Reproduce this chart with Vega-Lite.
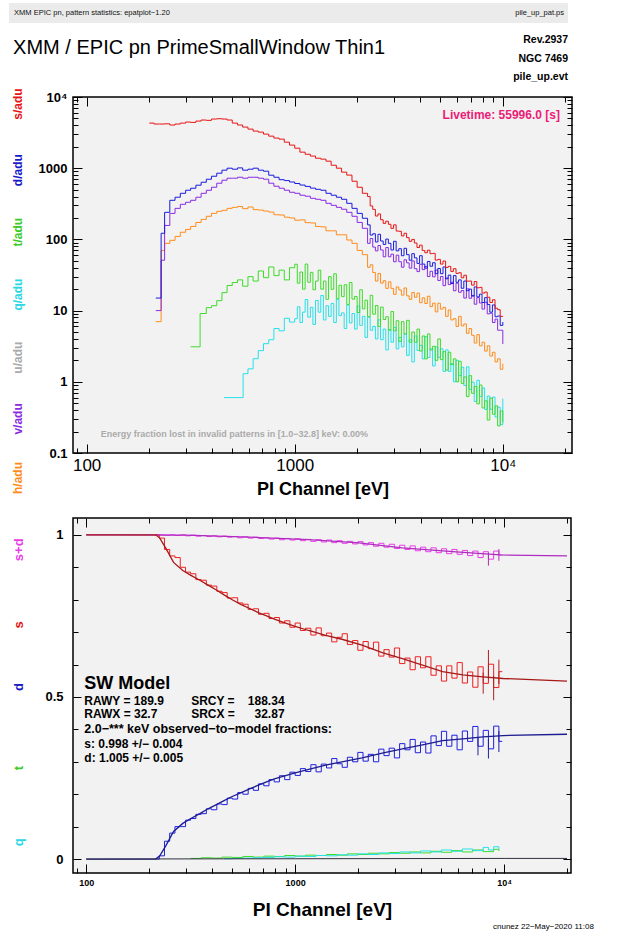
{
"$schema": "https://vega.github.io/schema/vega-lite/v6.json",
"background": "white",
"padding": {"left": 8, "top": 3, "right": 4, "bottom": 4},
"config": {"font": "Liberation Sans", "text": {"font": "Liberation Sans"}},
"datasets": {
"s": [{"e":200,"c":4300},{"e":211,"c":4170},{"e":224,"c":4170},{"e":237,"c":4200},{"e":251,"c":4040},{"e":266,"c":4170},{"e":282,"c":4300},{"e":299,"c":4450},{"e":316,"c":4400},{"e":335,"c":4590},{"e":355,"c":4750},{"e":376,"c":4700},{"e":398,"c":4900},{"e":422,"c":4950},{"e":447,"c":4900},{"e":473,"c":4750},{"e":501,"c":4300},{"e":531,"c":4040},{"e":562,"c":3780},{"e":596,"c":3540},{"e":631,"c":3320},{"e":668,"c":3210},{"e":708,"c":3010},{"e":750,"c":2820},{"e":794,"c":2650},{"e":841,"c":2560},{"e":891,"c":2320},{"e":944,"c":2110},{"e":1000,"c":1910},{"e":1059,"c":1680},{"e":1122,"c":1570},{"e":1189,"c":1480},{"e":1259,"c":1380},{"e":1334,"c":1340},{"e":1413,"c":1255},{"e":1496,"c":1100},{"e":1585,"c":1000},{"e":1679,"c":880},{"e":1778,"c":800},{"e":1884,"c":656},{"e":1995,"c":540},{"e":2113,"c":444},{"e":2239,"c":400},{"e":2304,"c":295},{"e":2371,"c":264},{"e":2441,"c":213},{"e":2512,"c":228},{"e":2585,"c":189},{"e":2661,"c":168},{"e":2738,"c":180},{"e":2818,"c":163},{"e":2900,"c":143},{"e":2985,"c":160},{"e":3072,"c":131},{"e":3162,"c":130},{"e":3255,"c":112},{"e":3350,"c":122},{"e":3447,"c":106},{"e":3548,"c":94},{"e":3652,"c":100},{"e":3758,"c":89},{"e":3868,"c":77},{"e":3981,"c":83},{"e":4097,"c":70},{"e":4217,"c":65},{"e":4340,"c":70.5},{"e":4467,"c":63},{"e":4597,"c":63.7},{"e":4732,"c":51.2},{"e":4870,"c":52.4},{"e":5012,"c":45},{"e":5158,"c":49.7},{"e":5309,"c":40.4},{"e":5464,"c":41.8},{"e":5623,"c":35.5},{"e":5788,"c":38.8},{"e":5957,"c":33.3},{"e":6131,"c":34},{"e":6310,"c":28.9},{"e":6494,"c":31.4},{"e":6683,"c":25.9},{"e":6878,"c":26},{"e":7079,"c":22.8},{"e":7286,"c":25.6},{"e":7499,"c":20.9},{"e":7718,"c":21.2},{"e":7943,"c":17.6},{"e":8175,"c":18.2},{"e":8414,"c":15.4},{"e":8660,"c":13},{"e":8913,"c":14.2},{"e":9173,"c":10.8},{"e":9441,"c":10.3},{"e":9716,"c":8.3},{"e":10000,"c":8.2}],
"d": [{"e":215,"c":15},{"e":228,"c":122},{"e":237,"c":240},{"e":251,"c":354},{"e":266,"c":391},{"e":282,"c":444},{"e":299,"c":490},{"e":316,"c":523},{"e":335,"c":577},{"e":355,"c":635},{"e":376,"c":700},{"e":398,"c":771},{"e":422,"c":851},{"e":447,"c":938},{"e":473,"c":1000},{"e":501,"c":968},{"e":531,"c":1010},{"e":562,"c":938},{"e":596,"c":968},{"e":631,"c":1000},{"e":668,"c":938},{"e":708,"c":907},{"e":750,"c":797},{"e":794,"c":746},{"e":841,"c":690},{"e":891,"c":670},{"e":944,"c":640},{"e":1000,"c":610},{"e":1059,"c":580},{"e":1122,"c":555},{"e":1189,"c":525},{"e":1259,"c":505},{"e":1334,"c":490},{"e":1413,"c":444},{"e":1496,"c":417},{"e":1585,"c":391},{"e":1679,"c":366},{"e":1778,"c":321},{"e":1884,"c":273},{"e":1995,"c":232},{"e":2113,"c":198},{"e":2239,"c":160},{"e":2304,"c":115},{"e":2371,"c":120},{"e":2441,"c":92},{"e":2512,"c":118},{"e":2585,"c":95},{"e":2661,"c":85},{"e":2738,"c":101},{"e":2818,"c":88},{"e":2900,"c":71},{"e":2985,"c":94},{"e":3072,"c":69},{"e":3162,"c":74},{"e":3255,"c":59},{"e":3350,"c":75},{"e":3447,"c":61},{"e":3548,"c":51},{"e":3652,"c":63},{"e":3758,"c":55},{"e":3868,"c":46},{"e":3981,"c":59},{"e":4097,"c":45},{"e":4217,"c":39.5},{"e":4340,"c":49},{"e":4467,"c":42},{"e":4597,"c":47},{"e":4732,"c":33},{"e":4870,"c":39},{"e":5012,"c":33},{"e":5158,"c":41},{"e":5309,"c":28},{"e":5464,"c":31.5},{"e":5623,"c":24},{"e":5788,"c":31},{"e":5957,"c":25},{"e":6131,"c":27},{"e":6310,"c":20.6},{"e":6494,"c":26},{"e":6683,"c":19},{"e":6878,"c":20},{"e":7079,"c":16},{"e":7286,"c":21.5},{"e":7499,"c":15.6},{"e":7718,"c":17},{"e":7943,"c":13},{"e":8175,"c":15.2},{"e":8414,"c":12.2},{"e":8660,"c":9.5},{"e":8913,"c":12},{"e":9173,"c":8.2},{"e":9441,"c":8.4},{"e":9716,"c":6.2},{"e":10000,"c":6.9}],
"v": [{"e":215,"c":10},{"e":228,"c":51},{"e":237,"c":157},{"e":251,"c":232},{"e":266,"c":273},{"e":282,"c":311},{"e":299,"c":332},{"e":316,"c":354},{"e":335,"c":391},{"e":355,"c":444},{"e":376,"c":490},{"e":398,"c":540},{"e":422,"c":615},{"e":447,"c":678},{"e":473,"c":723},{"e":501,"c":723},{"e":531,"c":746},{"e":562,"c":723},{"e":596,"c":746},{"e":631,"c":746},{"e":668,"c":723},{"e":708,"c":700},{"e":750,"c":615},{"e":794,"c":558},{"e":841,"c":523},{"e":891,"c":490},{"e":944,"c":459},{"e":1000,"c":444},{"e":1059,"c":417},{"e":1122,"c":404},{"e":1189,"c":378},{"e":1259,"c":366},{"e":1334,"c":354},{"e":1413,"c":321},{"e":1496,"c":301},{"e":1585,"c":282},{"e":1679,"c":265},{"e":1778,"c":240},{"e":1884,"c":211},{"e":1995,"c":173},{"e":2113,"c":143},{"e":2239,"c":88},{"e":2304,"c":103},{"e":2371,"c":78},{"e":2441,"c":69},{"e":2512,"c":82},{"e":2585,"c":71},{"e":2661,"c":57},{"e":2738,"c":77},{"e":2818,"c":57},{"e":2900,"c":62},{"e":2985,"c":48.5},{"e":3072,"c":60},{"e":3162,"c":48.6},{"e":3255,"c":40.7},{"e":3350,"c":51.7},{"e":3447,"c":46.8},{"e":3548,"c":39.5},{"e":3652,"c":49.9},{"e":3758,"c":38.8},{"e":3868,"c":35.3},{"e":3981,"c":44.7},{"e":4097,"c":37.6},{"e":4217,"c":41.7},{"e":4340,"c":30.1},{"e":4467,"c":35.7},{"e":4597,"c":29.8},{"e":4732,"c":37},{"e":4870,"c":26.5},{"e":5012,"c":30.1},{"e":5158,"c":22.4},{"e":5309,"c":28.7},{"e":5464,"c":23.2},{"e":5623,"c":25},{"e":5788,"c":19},{"e":5957,"c":24.3},{"e":6131,"c":18.1},{"e":6310,"c":19.1},{"e":6494,"c":15},{"e":6683,"c":20.2},{"e":6878,"c":14.9},{"e":7079,"c":16.3},{"e":7286,"c":12.3},{"e":7499,"c":15.2},{"e":7718,"c":12.8},{"e":7943,"c":10.5},{"e":8175,"c":13.1},{"e":8414,"c":9},{"e":8660,"c":9.2},{"e":8913,"c":6.8},{"e":9173,"c":7.6},{"e":9441,"c":5.3},{"e":9716,"c":5.3},{"e":10000,"c":3.4}],
"h": [{"e":215,"c":7},{"e":228,"c":70},{"e":237,"c":88},{"e":251,"c":97},{"e":266,"c":110},{"e":282,"c":126},{"e":299,"c":138},{"e":316,"c":152},{"e":335,"c":173},{"e":355,"c":191},{"e":376,"c":211},{"e":398,"c":232},{"e":422,"c":248},{"e":447,"c":256},{"e":473,"c":273},{"e":501,"c":282},{"e":531,"c":290},{"e":562,"c":270},{"e":596,"c":285},{"e":631,"c":262},{"e":668,"c":258},{"e":708,"c":250},{"e":750,"c":242},{"e":794,"c":222},{"e":841,"c":220},{"e":891,"c":205},{"e":944,"c":200},{"e":1000,"c":186},{"e":1059,"c":188},{"e":1122,"c":172},{"e":1189,"c":170},{"e":1259,"c":152},{"e":1334,"c":150},{"e":1413,"c":132},{"e":1496,"c":132},{"e":1585,"c":116},{"e":1679,"c":116},{"e":1778,"c":98},{"e":1884,"c":88},{"e":1995,"c":70},{"e":2113,"c":61},{"e":2239,"c":40.5},{"e":2304,"c":44},{"e":2371,"c":34.3},{"e":2441,"c":26},{"e":2512,"c":33.3},{"e":2585,"c":24.3},{"e":2661,"c":26.3},{"e":2738,"c":20.5},{"e":2818,"c":25.4},{"e":2900,"c":20.5},{"e":2985,"c":16.9},{"e":3072,"c":21.5},{"e":3162,"c":19.5},{"e":3255,"c":16.5},{"e":3350,"c":20.8},{"e":3447,"c":16.1},{"e":3548,"c":14.4},{"e":3652,"c":18},{"e":3758,"c":15.4},{"e":3868,"c":17.6},{"e":3981,"c":12.9},{"e":4097,"c":15.1},{"e":4217,"c":12.6},{"e":4340,"c":15.9},{"e":4467,"c":11.4},{"e":4597,"c":12.7},{"e":4732,"c":9.6},{"e":4870,"c":12.7},{"e":5012,"c":10.5},{"e":5158,"c":11.1},{"e":5309,"c":8.3},{"e":5464,"c":10.2},{"e":5623,"c":7.4},{"e":5788,"c":7.7},{"e":5957,"c":6.0},{"e":6131,"c":8.3},{"e":6310,"c":6.1},{"e":6494,"c":6.5},{"e":6683,"c":4.8},{"e":6878,"c":5.6},{"e":7079,"c":4.5},{"e":7286,"c":3.5},{"e":7499,"c":4.6},{"e":7718,"c":3.2},{"e":7943,"c":3.6},{"e":8175,"c":2.7},{"e":8414,"c":3.2},{"e":8660,"c":2.3},{"e":8913,"c":2.6},{"e":9173,"c":1.9},{"e":9441,"c":2.1},{"e":9716,"c":1.5},{"e":10000,"c":1.8}],
"t": [{"e":316,"c":3.1},{"e":351,"c":9.1},{"e":376,"c":11},{"e":398,"c":11.7},{"e":422,"c":13.8},{"e":447,"c":17.9},{"e":473,"c":22.5},{"e":501,"c":24.8},{"e":531,"c":27},{"e":562,"c":22},{"e":596,"c":30},{"e":631,"c":26},{"e":668,"c":36},{"e":708,"c":29},{"e":750,"c":41},{"e":794,"c":31},{"e":841,"c":37},{"e":891,"c":27},{"e":944,"c":40},{"e":1000,"c":44.8},{"e":1029,"c":24.3},{"e":1059,"c":34.8},{"e":1090,"c":20},{"e":1122,"c":45},{"e":1155,"c":25},{"e":1189,"c":34.4},{"e":1223,"c":19.6},{"e":1259,"c":26},{"e":1296,"c":37},{"e":1334,"c":20},{"e":1373,"c":26},{"e":1413,"c":14.4},{"e":1454,"c":30},{"e":1496,"c":19.9},{"e":1540,"c":32.9},{"e":1585,"c":14.7},{"e":1631,"c":22.7},{"e":1679,"c":15.7},{"e":1728,"c":23.1},{"e":1778,"c":12.2},{"e":1830,"c":24.8},{"e":1884,"c":14.5},{"e":1939,"c":15.8},{"e":1995,"c":9.4},{"e":2053,"c":19.6},{"e":2113,"c":10.6},{"e":2175,"c":14},{"e":2239,"c":8.2},{"e":2304,"c":16.4},{"e":2371,"c":8.9},{"e":2441,"c":11.8},{"e":2512,"c":6},{"e":2585,"c":11.2},{"e":2661,"c":7.5},{"e":2738,"c":8.2},{"e":2818,"c":5.3},{"e":2900,"c":9.7},{"e":2985,"c":5.2},{"e":3072,"c":7.2},{"e":3162,"c":3.7},{"e":3255,"c":7},{"e":3350,"c":4.7},{"e":3447,"c":7.3},{"e":3548,"c":3.6},{"e":3652,"c":5},{"e":3758,"c":3.6},{"e":3868,"c":5.5},{"e":3981,"c":2.7},{"e":4097,"c":4.4},{"e":4217,"c":2.1},{"e":4340,"c":4.7},{"e":4467,"c":2.8},{"e":4597,"c":3.15},{"e":4732,"c":2.0},{"e":4870,"c":4.0},{"e":5012,"c":2.05},{"e":5158,"c":2.65},{"e":5309,"c":1.46},{"e":5464,"c":2.6},{"e":5623,"c":1.74},{"e":5788,"c":2.1},{"e":5957,"c":1.0},{"e":6131,"c":1.94},{"e":6310,"c":0.95},{"e":6494,"c":1.17},{"e":6683,"c":0.62},{"e":6878,"c":1.22},{"e":7079,"c":0.69},{"e":7286,"c":0.86},{"e":7499,"c":0.49},{"e":7718,"c":0.9},{"e":7943,"c":0.43},{"e":8175,"c":0.54},{"e":8414,"c":0.29},{"e":8660,"c":0.59},{"e":8913,"c":0.35},{"e":9173,"c":0.46},{"e":9441,"c":0.24},{"e":9716,"c":0.39},{"e":10000,"c":0.27}],
"q": [{"e":457,"c":0.6},{"e":565,"c":1.3},{"e":596,"c":1.52},{"e":631,"c":2.11},{"e":668,"c":2.74},{"e":708,"c":3.43},{"e":750,"c":3.9},{"e":794,"c":5.6},{"e":841,"c":5.2},{"e":891,"c":7.8},{"e":944,"c":6.9},{"e":1000,"c":7.7},{"e":1029,"c":11.3},{"e":1059,"c":6.8},{"e":1090,"c":9.5},{"e":1122,"c":14.3},{"e":1155,"c":8.1},{"e":1189,"c":11.1},{"e":1223,"c":6.4},{"e":1259,"c":13.9},{"e":1296,"c":9.5},{"e":1334,"c":16.3},{"e":1373,"c":7.4},{"e":1413,"c":11.7},{"e":1454,"c":8.3},{"e":1496,"c":12.6},{"e":1540,"c":6.8},{"e":1585,"c":14.5},{"e":1631,"c":8.5},{"e":1679,"c":9.3},{"e":1728,"c":5.6},{"e":1778,"c":12},{"e":1830,"c":6.7},{"e":1884,"c":9.1},{"e":1939,"c":5.5},{"e":1995,"c":11.6},{"e":2053,"c":6.2},{"e":2113,"c":8.3},{"e":2175,"c":4.2},{"e":2239,"c":8.1},{"e":2304,"c":5.3},{"e":2371,"c":6},{"e":2441,"c":4},{"e":2512,"c":7.4},{"e":2585,"c":3.9},{"e":2661,"c":5.5},{"e":2738,"c":2.8},{"e":2818,"c":5.4},{"e":2900,"c":3.6},{"e":2985,"c":5.8},{"e":3072,"c":2.9},{"e":3162,"c":4.2},{"e":3255,"c":3.1},{"e":3350,"c":4.7},{"e":3447,"c":2.35},{"e":3548,"c":3.9},{"e":3652,"c":1.9},{"e":3758,"c":4.4},{"e":3868,"c":2.75},{"e":3981,"c":3.25},{"e":4097,"c":2.1},{"e":4217,"c":4.3},{"e":4340,"c":2.2},{"e":4467,"c":2.9},{"e":4597,"c":1.67},{"e":4732,"c":3.1},{"e":4870,"c":2.2},{"e":5012,"c":2.9},{"e":5158,"c":1.4},{"e":5309,"c":2.8},{"e":5464,"c":1.4},{"e":5623,"c":1.8},{"e":5788,"c":1.0},{"e":5957,"c":2.0},{"e":6131,"c":1.22},{"e":6310,"c":1.6},{"e":6494,"c":0.89},{"e":6683,"c":1.62},{"e":6878,"c":0.78},{"e":7079,"c":0.99},{"e":7286,"c":0.53},{"e":7499,"c":1.05},{"e":7718,"c":0.62},{"e":7943,"c":0.82},{"e":8175,"c":0.41},{"e":8414,"c":0.63},{"e":8660,"c":0.41},{"e":8913,"c":0.61},{"e":9173,"c":0.32},{"e":9441,"c":0.44},{"e":9716,"c":0.25},{"e":10000,"c":0.58}],
"bs": [{"e":215,"f":1.0},{"e":224,"f":0.99},{"e":237,"f":0.955},{"e":251,"f":0.935},{"e":266,"f":0.93},{"e":282,"f":0.9},{"e":299,"f":0.885},{"e":316,"f":0.88},{"e":335,"f":0.862},{"e":355,"f":0.86},{"e":376,"f":0.845},{"e":398,"f":0.842},{"e":422,"f":0.826},{"e":447,"f":0.822},{"e":473,"f":0.805},{"e":501,"f":0.806},{"e":531,"f":0.79},{"e":562,"f":0.786},{"e":596,"f":0.77},{"e":631,"f":0.772},{"e":668,"f":0.755},{"e":708,"f":0.758},{"e":750,"f":0.742},{"e":794,"f":0.745},{"e":841,"f":0.728},{"e":891,"f":0.735},{"e":944,"f":0.715},{"e":1000,"f":0.728},{"e":1059,"f":0.705},{"e":1122,"f":0.712},{"e":1189,"f":0.691},{"e":1259,"f":0.713},{"e":1334,"f":0.689},{"e":1413,"f":0.697},{"e":1496,"f":0.67},{"e":1585,"f":0.684},{"e":1679,"f":0.695},{"e":1778,"f":0.662},{"e":1884,"f":0.674},{"e":1995,"f":0.644},{"e":2113,"f":0.671},{"e":2239,"f":0.649},{"e":2371,"f":0.669},{"e":2512,"f":0.626},{"e":2661,"f":0.646},{"e":2818,"f":0.623},{"e":2985,"f":0.651},{"e":3162,"f":0.603},{"e":3350,"f":0.62},{"e":3548,"f":0.584},{"e":3758,"f":0.624},{"e":3981,"f":0.59},{"e":4217,"f":0.624},{"e":4467,"f":0.567},{"e":4732,"f":0.596},{"e":5012,"f":0.549},{"e":5309,"f":0.596},{"e":5623,"f":0.558},{"e":5957,"f":0.606},{"e":6310,"f":0.543},{"e":6683,"f":0.577},{"e":7079,"f":0.53},{"e":7499,"f":0.593},{"e":7943,"f":0.542},{"e":8414,"f":0.601},{"e":8913,"f":0.529},{"e":9441,"f":0.578},{"e":9800,"f":0.578}],
"bd": [{"e":215,"f":0.0},{"e":224,"f":0.01},{"e":237,"f":0.055},{"e":251,"f":0.08},{"e":266,"f":0.1},{"e":282,"f":0.1},{"e":299,"f":0.12},{"e":316,"f":0.125},{"e":335,"f":0.138},{"e":355,"f":0.14},{"e":376,"f":0.155},{"e":398,"f":0.152},{"e":422,"f":0.17},{"e":447,"f":0.168},{"e":473,"f":0.188},{"e":501,"f":0.185},{"e":531,"f":0.205},{"e":562,"f":0.2},{"e":596,"f":0.218},{"e":631,"f":0.212},{"e":668,"f":0.232},{"e":708,"f":0.226},{"e":750,"f":0.245},{"e":794,"f":0.238},{"e":841,"f":0.257},{"e":891,"f":0.245},{"e":944,"f":0.268},{"e":1000,"f":0.258},{"e":1059,"f":0.279},{"e":1122,"f":0.27},{"e":1189,"f":0.291},{"e":1259,"f":0.269},{"e":1334,"f":0.293},{"e":1413,"f":0.281},{"e":1496,"f":0.31},{"e":1585,"f":0.294},{"e":1679,"f":0.283},{"e":1778,"f":0.314},{"e":1884,"f":0.3},{"e":1995,"f":0.329},{"e":2113,"f":0.302},{"e":2239,"f":0.323},{"e":2371,"f":0.3},{"e":2512,"f":0.339},{"e":2661,"f":0.319},{"e":2818,"f":0.342},{"e":2985,"f":0.312},{"e":3162,"f":0.356},{"e":3350,"f":0.337},{"e":3548,"f":0.369},{"e":3758,"f":0.328},{"e":3981,"f":0.361},{"e":4217,"f":0.327},{"e":4467,"f":0.38},{"e":4732,"f":0.35},{"e":5012,"f":0.394},{"e":5309,"f":0.348},{"e":5623,"f":0.382},{"e":5957,"f":0.337},{"e":6310,"f":0.395},{"e":6683,"f":0.363},{"e":7079,"f":0.409},{"e":7499,"f":0.348},{"e":7943,"f":0.397},{"e":8414,"f":0.34},{"e":8913,"f":0.41},{"e":9441,"f":0.363},{"e":9800,"f":0.363}],
"bsd": [{"e":215,"f":1.0},{"e":237,"f":0.999},{"e":251,"f":1.0},{"e":266,"f":0.998},{"e":282,"f":1.0},{"e":299,"f":0.997},{"e":316,"f":0.999},{"e":335,"f":0.996},{"e":355,"f":0.998},{"e":376,"f":0.995},{"e":398,"f":0.997},{"e":422,"f":0.994},{"e":447,"f":0.996},{"e":473,"f":0.993},{"e":501,"f":0.995},{"e":531,"f":0.991},{"e":562,"f":0.994},{"e":596,"f":0.99},{"e":631,"f":0.993},{"e":668,"f":0.989},{"e":708,"f":0.991},{"e":750,"f":0.987},{"e":794,"f":0.99},{"e":841,"f":0.985},{"e":891,"f":0.989},{"e":944,"f":0.984},{"e":1000,"f":0.988},{"e":1059,"f":0.982},{"e":1122,"f":0.986},{"e":1189,"f":0.98},{"e":1259,"f":0.985},{"e":1334,"f":0.978},{"e":1413,"f":0.984},{"e":1496,"f":0.976},{"e":1585,"f":0.982},{"e":1679,"f":0.974},{"e":1778,"f":0.98},{"e":1884,"f":0.972},{"e":1995,"f":0.979},{"e":2113,"f":0.969},{"e":2239,"f":0.976},{"e":2371,"f":0.965},{"e":2512,"f":0.974},{"e":2661,"f":0.962},{"e":2818,"f":0.971},{"e":2985,"f":0.958},{"e":3162,"f":0.968},{"e":3350,"f":0.955},{"e":3548,"f":0.966},{"e":3758,"f":0.951},{"e":3981,"f":0.962},{"e":4217,"f":0.948},{"e":4467,"f":0.96},{"e":4732,"f":0.945},{"e":5012,"f":0.957},{"e":5309,"f":0.942},{"e":5623,"f":0.955},{"e":5957,"f":0.94},{"e":6310,"f":0.952},{"e":6683,"f":0.936},{"e":7079,"f":0.95},{"e":7499,"f":0.93},{"e":7943,"f":0.948},{"e":8414,"f":0.925},{"e":8913,"f":0.95},{"e":9441,"f":0.938},{"e":9800,"f":0.938}],
"bt": [{"e":316,"f":0.002},{"e":355,"f":0.004},{"e":398,"f":0.003},{"e":447,"f":0.006},{"e":501,"f":0.005},{"e":562,"f":0.008},{"e":631,"f":0.006},{"e":708,"f":0.009},{"e":794,"f":0.008},{"e":891,"f":0.011},{"e":1000,"f":0.009},{"e":1122,"f":0.012},{"e":1259,"f":0.011},{"e":1413,"f":0.014},{"e":1585,"f":0.012},{"e":1778,"f":0.016},{"e":1995,"f":0.014},{"e":2239,"f":0.018},{"e":2512,"f":0.016},{"e":2818,"f":0.02},{"e":3162,"f":0.018},{"e":3548,"f":0.022},{"e":3981,"f":0.019},{"e":4467,"f":0.024},{"e":5012,"f":0.021},{"e":5623,"f":0.026},{"e":6310,"f":0.022},{"e":7079,"f":0.028},{"e":7943,"f":0.023},{"e":8913,"f":0.03},{"e":9441,"f":0.025}],
"bq": [{"e":457,"f":0.001},{"e":501,"f":0.002},{"e":562,"f":0.003},{"e":631,"f":0.004},{"e":708,"f":0.005},{"e":794,"f":0.007},{"e":891,"f":0.006},{"e":1000,"f":0.009},{"e":1122,"f":0.008},{"e":1259,"f":0.011},{"e":1413,"f":0.01},{"e":1585,"f":0.013},{"e":1778,"f":0.012},{"e":1995,"f":0.016},{"e":2239,"f":0.014},{"e":2512,"f":0.019},{"e":2818,"f":0.017},{"e":3162,"f":0.022},{"e":3548,"f":0.019},{"e":3981,"f":0.025},{"e":4467,"f":0.022},{"e":5012,"f":0.028},{"e":5623,"f":0.024},{"e":6310,"f":0.031},{"e":7079,"f":0.026},{"e":7943,"f":0.036},{"e":8414,"f":0.028},{"e":8913,"f":0.038},{"e":9441,"f":0.03}],
"ms": [{"e":100,"f":1},{"e":215,"f":1},{"e":225,"f":0.99},{"e":240,"f":0.96},{"e":262,"f":0.915},{"e":290,"f":0.89},{"e":317,"f":0.875},{"e":350,"f":0.86},{"e":383,"f":0.845},{"e":420,"f":0.83},{"e":457,"f":0.815},{"e":500,"f":0.8},{"e":552,"f":0.785},{"e":610,"f":0.772},{"e":667,"f":0.76},{"e":730,"f":0.75},{"e":796,"f":0.74},{"e":900,"f":0.728},{"e":1000,"f":0.718},{"e":1161,"f":0.705},{"e":1400,"f":0.69},{"e":1675,"f":0.678},{"e":2090,"f":0.66},{"e":2610,"f":0.637},{"e":3260,"f":0.618},{"e":4070,"f":0.598},{"e":5080,"f":0.578},{"e":6340,"f":0.568},{"e":7920,"f":0.562},{"e":9890,"f":0.557},{"e":20000,"f":0.549}],
"md": [{"e":100,"f":0},{"e":215,"f":0},{"e":225,"f":0.01},{"e":240,"f":0.04},{"e":262,"f":0.085},{"e":290,"f":0.11},{"e":317,"f":0.125},{"e":350,"f":0.14},{"e":383,"f":0.155},{"e":420,"f":0.168},{"e":457,"f":0.18},{"e":500,"f":0.193},{"e":552,"f":0.205},{"e":610,"f":0.217},{"e":667,"f":0.228},{"e":730,"f":0.238},{"e":796,"f":0.247},{"e":900,"f":0.257},{"e":1000,"f":0.266},{"e":1161,"f":0.277},{"e":1400,"f":0.29},{"e":1675,"f":0.3},{"e":2090,"f":0.312},{"e":2610,"f":0.327},{"e":3260,"f":0.34},{"e":4070,"f":0.352},{"e":5080,"f":0.365},{"e":6340,"f":0.371},{"e":7920,"f":0.377},{"e":9890,"f":0.381},{"e":20000,"f":0.385}],
"msd": [{"e":100,"f":1},{"e":300,"f":0.999},{"e":552,"f":0.994},{"e":1161,"f":0.985},{"e":2020,"f":0.975},{"e":3260,"f":0.96},{"e":5680,"f":0.948},{"e":9570,"f":0.938},{"e":20000,"f":0.935}],
"mtq": [{"e":100,"f":0},{"e":1000,"f":0.001},{"e":10000,"f":0.002},{"e":20000,"f":0.002}],
"eb": [{"e":7943,"lo":0.51,"hi":0.575,"k":"s"},{"e":8414,"lo":0.555,"hi":0.645,"k":"s"},{"e":8913,"lo":0.49,"hi":0.565,"k":"s"},{"e":9441,"lo":0.54,"hi":0.615,"k":"s"},{"e":7499,"lo":0.32,"hi":0.375,"k":"d"},{"e":8414,"lo":0.31,"hi":0.37,"k":"d"},{"e":9441,"lo":0.33,"hi":0.395,"k":"d"},{"e":8414,"lo":0.905,"hi":0.945,"k":"sd"},{"e":9441,"lo":0.92,"hi":0.956,"k":"sd"}]
},
"vconcat": [
{
"width": 499, "height": 29,
"view": {"stroke": null},
"data": {"values": [{}]},
"layer": [
{"mark": {"type": "rect", "color": "#ebebeb"},
 "encoding": {"x": {"datum": -0.1283, "type": "quantitative", "scale": {"domain": [0, 1], "nice": false, "zero": false}, "axis": null}, "x2": {"datum": 0.992},
 "y": {"datum": 1, "type": "quantitative", "scale": {"domain": [0, 1], "nice": false, "zero": false}, "axis": null}, "y2": {"datum": 0.31}}},
{"mark": {"type": "text", "text": "XMM EPIC pn, pattern statistics: epatplot−1.20", "align": "left", "baseline": "middle", "fontSize": 7.5, "color": "#111"},
 "encoding": {"x": {"datum": -0.118, "type": "quantitative"}, "y": {"datum": 0.655, "type": "quantitative"}}},
{"mark": {"type": "text", "text": "pile_up_pat.ps", "align": "right", "baseline": "middle", "fontSize": 7.5, "color": "#111"},
 "encoding": {"x": {"datum": 0.984, "type": "quantitative"}, "y": {"datum": 0.655, "type": "quantitative"}}},
{"mark": {"type": "text", "text": "XMM / EPIC pn PrimeSmallWindow Thin1", "align": "left", "baseline": "middle", "fontSize": 20, "color": "#000"},
 "encoding": {"x": {"datum": -0.12, "type": "quantitative"}, "y": {"datum": -0.552, "type": "quantitative"}}},
{"mark": {"type": "text", "text": "Rev.2937", "align": "right", "baseline": "middle", "fontSize": 10.5, "fontWeight": "bold", "color": "#000"},
 "encoding": {"x": {"datum": 0.992, "type": "quantitative"}, "y": {"datum": -0.276, "type": "quantitative"}}},
{"mark": {"type": "text", "text": "NGC 7469", "align": "right", "baseline": "middle", "fontSize": 10.5, "fontWeight": "bold", "color": "#000"},
 "encoding": {"x": {"datum": 0.992, "type": "quantitative"}, "y": {"datum": -0.931, "type": "quantitative"}}},
{"mark": {"type": "text", "text": "pile_up.evt", "align": "right", "baseline": "middle", "fontSize": 10.5, "fontWeight": "bold", "color": "#000"},
 "encoding": {"x": {"datum": 0.992, "type": "quantitative"}, "y": {"datum": -1.552, "type": "quantitative"}}}
]
},
{
"width": 499, "height": 356,
"view": {"fill": "#f2f2f2", "stroke": "#000", "strokeWidth": 1.5},
"layer": [
{"data": {"name": "h"}, "mark": {"type": "line", "interpolate": "step-after", "color": "#ff8c1a", "strokeWidth": 1},
 "encoding": {
  "x": {"field": "e", "type": "quantitative", "scale": {"type": "log", "domain": [86, 21500], "nice": false},
   "axis": {"orient": "bottom", "values": [90,100,200,300,400,500,600,700,800,900,1000,2000,3000,4000,5000,6000,7000,8000,9000,10000,20000],
    "labelExpr": "datum.value == 100 ? '100' : datum.value == 1000 ? '1000' : datum.value == 10000 ? '10⁴' : ''",
    "labelOverlap": false, "labelFlush": false, "labelFontSize": 17, "labelColor": "#000", "labelPadding": 13,
    "tickColor": "#000", "tickSize": {"condition": {"test": "datum.value == 100 || datum.value == 1000 || datum.value == 10000", "value": -9}, "value": -5},
    "domain": false, "grid": false, "title": "PI Channel [eV]", "titleFontSize": 18, "titleFontWeight": "bold", "titleColor": "#000", "titlePadding": 3}},
  "y": {"field": "c", "type": "quantitative", "scale": {"type": "log", "domain": [0.1, 10000], "nice": false},
   "axis": {"orient": "left", "values": [0.1,0.2,0.3,0.4,0.5,0.6,0.7,0.8,0.9,1,2,3,4,5,6,7,8,9,10,20,30,40,50,60,70,80,90,100,200,300,400,500,600,700,800,900,1000,2000,3000,4000,5000,6000,7000,8000,9000,10000],
    "labelExpr": "datum.value == 10000 ? '10⁴' : datum.value == 1000 ? '1000' : datum.value == 100 ? '100' : datum.value == 10 ? '10' : datum.value == 1 ? '1' : datum.value == 0.1 ? '0.1' : ''",
    "labelOverlap": false, "labelFlush": false, "labelFontSize": 13, "labelFontWeight": "bold", "labelColor": "#000", "labelPadding": 15,
    "tickColor": "#000", "tickSize": {"condition": {"test": "indexof([0.1,1,10,100,1000,10000], datum.value) >= 0", "value": -9}, "value": -5},
    "domain": false, "grid": false, "title": null}}
 }},
{"data": {"name": "v"}, "mark": {"type": "line", "interpolate": "step-after", "color": "#8a2be2", "strokeWidth": 1},
 "encoding": {"x": {"field": "e", "type": "quantitative", "scale": {"type": "log", "domain": [86, 21500], "nice": false}, "axis": null}, "y": {"field": "c", "type": "quantitative", "scale": {"type": "log", "domain": [0.1, 10000], "nice": false}, "axis": null}}},
{"data": {"name": "q"}, "mark": {"type": "line", "interpolate": "step-after", "color": "#26e0ea", "strokeWidth": 1},
 "encoding": {"x": {"field": "e", "type": "quantitative", "scale": {"type": "log", "domain": [86, 21500], "nice": false}, "axis": null}, "y": {"field": "c", "type": "quantitative", "scale": {"type": "log", "domain": [0.1, 10000], "nice": false}, "axis": null}}},
{"data": {"name": "t"}, "mark": {"type": "line", "interpolate": "step-after", "color": "#3ddc2a", "strokeWidth": 1},
 "encoding": {"x": {"field": "e", "type": "quantitative", "scale": {"type": "log", "domain": [86, 21500], "nice": false}, "axis": null}, "y": {"field": "c", "type": "quantitative", "scale": {"type": "log", "domain": [0.1, 10000], "nice": false}, "axis": null}}},
{"data": {"name": "d"}, "mark": {"type": "line", "interpolate": "step-after", "color": "#1a1ae0", "strokeWidth": 1},
 "encoding": {"x": {"field": "e", "type": "quantitative", "scale": {"type": "log", "domain": [86, 21500], "nice": false}, "axis": null}, "y": {"field": "c", "type": "quantitative", "scale": {"type": "log", "domain": [0.1, 10000], "nice": false}, "axis": null}}},
{"data": {"name": "s"}, "mark": {"type": "line", "interpolate": "step-after", "color": "#e81414", "strokeWidth": 1},
 "encoding": {"x": {"field": "e", "type": "quantitative", "scale": {"type": "log", "domain": [86, 21500], "nice": false}, "axis": null}, "y": {"field": "c", "type": "quantitative", "scale": {"type": "log", "domain": [0.1, 10000], "nice": false}, "axis": null}}},
{"data": {"values": [{}]}, "mark": {"type": "text", "text": "Livetime:  55996.0 [s]", "align": "right", "baseline": "middle", "fontSize": 12, "fontWeight": "bold", "color": "#ec1c78"},
 "encoding": {
  "x": {"datum": 18820, "type": "quantitative", "scale": {"type": "log", "domain": [86, 21500], "nice": false},
   "axis": {"orient": "top", "values": [90,100,200,300,400,500,600,700,800,900,1000,2000,3000,4000,5000,6000,7000,8000,9000,10000,20000], "labels": false,
    "tickColor": "#000", "tickSize": {"condition": {"test": "datum.value == 100 || datum.value == 1000 || datum.value == 10000", "value": -9}, "value": -5},
    "domain": false, "grid": false, "title": null}},
  "y": {"datum": 5580, "type": "quantitative", "scale": {"type": "log", "domain": [0.1, 10000], "nice": false},
   "axis": {"orient": "right", "values": [0.1,0.2,0.3,0.4,0.5,0.6,0.7,0.8,0.9,1,2,3,4,5,6,7,8,9,10,20,30,40,50,60,70,80,90,100,200,300,400,500,600,700,800,900,1000,2000,3000,4000,5000,6000,7000,8000,9000,10000], "labels": false,
    "tickColor": "#000", "tickSize": {"condition": {"test": "indexof([0.1,1,10,100,1000,10000], datum.value) >= 0", "value": -9}, "value": -5},
    "domain": false, "grid": false, "title": null}}
 }},
{"data": {"values": [{}]}, "mark": {"type": "text", "text": "Energy fraction lost in invalid patterns in [1.0−32.8] keV:  0.00%", "align": "left", "baseline": "middle", "fontSize": 9, "fontWeight": "bold", "color": "#aaaaaa"},
 "encoding": {"x": {"datum": 116.8, "type": "quantitative", "scale": {"type": "log", "domain": [86, 21500], "nice": false}, "axis": null}, "y": {"datum": 0.185, "type": "quantitative", "scale": {"type": "log", "domain": [0.1, 10000], "nice": false}, "axis": null}}},
{"data": {"values": [{}]}, "mark": {"type": "text", "text": "s/adu", "angle": 270, "align": "center", "baseline": "middle", "fontSize": 12, "fontWeight": "bold", "color": "#e81414"},
 "encoding": {"x": {"datum": 47, "type": "quantitative", "scale": {"type": "log", "domain": [86, 21500], "nice": false}, "axis": null}, "y": {"datum": 7970, "type": "quantitative", "scale": {"type": "log", "domain": [0.1, 10000], "nice": false}, "axis": null}}},
{"data": {"values": [{}]}, "mark": {"type": "text", "text": "d/adu", "angle": 270, "align": "center", "baseline": "middle", "fontSize": 12, "fontWeight": "bold", "color": "#1a1ac8"},
 "encoding": {"x": {"datum": 47, "type": "quantitative", "scale": {"type": "log", "domain": [86, 21500], "nice": false}, "axis": null}, "y": {"datum": 938, "type": "quantitative", "scale": {"type": "log", "domain": [0.1, 10000], "nice": false}, "axis": null}}},
{"data": {"values": [{}]}, "mark": {"type": "text", "text": "t/adu", "angle": 270, "align": "center", "baseline": "middle", "fontSize": 12, "fontWeight": "bold", "color": "#3ccc2a"},
 "encoding": {"x": {"datum": 47, "type": "quantitative", "scale": {"type": "log", "domain": [86, 21500], "nice": false}, "axis": null}, "y": {"datum": 126, "type": "quantitative", "scale": {"type": "log", "domain": [0.1, 10000], "nice": false}, "axis": null}}},
{"data": {"values": [{}]}, "mark": {"type": "text", "text": "q/adu", "angle": 270, "align": "center", "baseline": "middle", "fontSize": 12, "fontWeight": "bold", "color": "#2ad8e4"},
 "encoding": {"x": {"datum": 47, "type": "quantitative", "scale": {"type": "log", "domain": [86, 21500], "nice": false}, "axis": null}, "y": {"datum": 16.8, "type": "quantitative", "scale": {"type": "log", "domain": [0.1, 10000], "nice": false}, "axis": null}}},
{"data": {"values": [{}]}, "mark": {"type": "text", "text": "u/adu", "angle": 270, "align": "center", "baseline": "middle", "fontSize": 12, "fontWeight": "bold", "color": "#aaaaaa"},
 "encoding": {"x": {"datum": 47, "type": "quantitative", "scale": {"type": "log", "domain": [86, 21500], "nice": false}, "axis": null}, "y": {"datum": 2.18, "type": "quantitative", "scale": {"type": "log", "domain": [0.1, 10000], "nice": false}, "axis": null}}},
{"data": {"values": [{}]}, "mark": {"type": "text", "text": "v/adu", "angle": 270, "align": "center", "baseline": "middle", "fontSize": 12, "fontWeight": "bold", "color": "#8a2be2"},
 "encoding": {"x": {"datum": 47, "type": "quantitative", "scale": {"type": "log", "domain": [86, 21500], "nice": false}, "axis": null}, "y": {"datum": 0.301, "type": "quantitative", "scale": {"type": "log", "domain": [0.1, 10000], "nice": false}, "axis": null}}},
{"data": {"values": [{}]}, "mark": {"type": "text", "text": "h/adu", "angle": 270, "align": "center", "baseline": "middle", "fontSize": 12, "fontWeight": "bold", "color": "#ff8c1a"},
 "encoding": {"x": {"datum": 47, "type": "quantitative", "scale": {"type": "log", "domain": [86, 21500], "nice": false}, "axis": null}, "y": {"datum": 0.0445, "type": "quantitative", "scale": {"type": "log", "domain": [0.1, 10000], "nice": false}, "axis": null}}}
],
"resolve": {"axis": {"x": "independent", "y": "independent"}}
},
{
"width": 498, "height": 355,
"view": {"fill": "#f2f2f2", "stroke": "#000", "strokeWidth": 1.5},
"layer": [
{"data": {"name": "bsd"}, "mark": {"type": "line", "interpolate": "step-after", "color": "#e83ce8", "strokeWidth": 1},
 "encoding": {
  "x": {"field": "e", "type": "quantitative", "scale": {"type": "log", "domain": [86.5, 20900], "nice": false},
   "axis": {"orient": "bottom", "values": [90,100,200,300,400,500,600,700,800,900,1000,2000,3000,4000,5000,6000,7000,8000,9000,10000,20000],
    "labelExpr": "datum.value == 100 ? '100' : datum.value == 1000 ? '1000' : datum.value == 10000 ? '10⁴' : ''",
    "labelOverlap": false, "labelFlush": false, "labelFontSize": 9, "labelFontWeight": "bold", "labelColor": "#000", "labelPadding": 14,
    "tickColor": "#000", "tickSize": {"condition": {"test": "datum.value == 100 || datum.value == 1000 || datum.value == 10000", "value": -9}, "value": -5},
    "domain": false, "grid": false, "title": "PI Channel [eV]", "titleFontSize": 19, "titleFontWeight": "bold", "titleColor": "#000", "titlePadding": 9}},
  "y": {"field": "f", "type": "quantitative", "scale": {"domain": [-0.043, 1.052], "nice": false, "zero": false},
   "axis": {"orient": "left", "values": [0,0.1,0.2,0.3,0.4,0.5,0.6,0.7,0.8,0.9,1],
    "labelExpr": "datum.value == 0 ? '0' : datum.value == 0.5 ? '0.5' : datum.value == 1 ? '1' : ''",
    "labelOverlap": false, "labelFlush": false, "labelFontSize": 13, "labelFontWeight": "bold", "labelColor": "#000", "labelPadding": 18,
    "tickColor": "#000", "tickSize": {"condition": {"test": "datum.value == 0 || datum.value == 0.5 || datum.value == 1", "value": -8}, "value": -5},
    "domain": false, "grid": false, "title": null}}
 }},
{"data": {"name": "bs"}, "mark": {"type": "line", "interpolate": "step-after", "color": "#ee2020", "strokeWidth": 1},
 "encoding": {"x": {"field": "e", "type": "quantitative", "scale": {"type": "log", "domain": [86.5, 20900], "nice": false}, "axis": null}, "y": {"field": "f", "type": "quantitative", "scale": {"domain": [-0.043, 1.052], "nice": false, "zero": false}, "axis": null}}},
{"data": {"name": "bd"}, "mark": {"type": "line", "interpolate": "step-after", "color": "#2020e0", "strokeWidth": 1},
 "encoding": {"x": {"field": "e", "type": "quantitative", "scale": {"type": "log", "domain": [86.5, 20900], "nice": false}, "axis": null}, "y": {"field": "f", "type": "quantitative", "scale": {"domain": [-0.043, 1.052], "nice": false, "zero": false}, "axis": null}}},
{"data": {"name": "bt"}, "mark": {"type": "line", "interpolate": "step-after", "color": "#3ddc2a", "strokeWidth": 1},
 "encoding": {"x": {"field": "e", "type": "quantitative", "scale": {"type": "log", "domain": [86.5, 20900], "nice": false}, "axis": null}, "y": {"field": "f", "type": "quantitative", "scale": {"domain": [-0.043, 1.052], "nice": false, "zero": false}, "axis": null}}},
{"data": {"name": "bq"}, "mark": {"type": "line", "interpolate": "step-after", "color": "#26e0ea", "strokeWidth": 1},
 "encoding": {"x": {"field": "e", "type": "quantitative", "scale": {"type": "log", "domain": [86.5, 20900], "nice": false}, "axis": null}, "y": {"field": "f", "type": "quantitative", "scale": {"domain": [-0.043, 1.052], "nice": false, "zero": false}, "axis": null}}},
{"data": {"name": "eb"}, "mark": {"type": "rule", "strokeWidth": 1},
 "encoding": {"x": {"field": "e", "type": "quantitative", "scale": {"type": "log", "domain": [86.5, 20900], "nice": false}, "axis": null},
  "y": {"field": "lo", "type": "quantitative", "scale": {"domain": [-0.043, 1.052], "nice": false, "zero": false}, "axis": null}, "y2": {"field": "hi"},
  "color": {"field": "k", "type": "nominal", "scale": {"domain": ["s", "d", "sd"], "range": ["#b02020", "#2020a0", "#b030b0"]}, "legend": null}}},
{"data": {"name": "msd"}, "mark": {"type": "line", "color": "#b02cc0", "strokeWidth": 1.2},
 "encoding": {"x": {"field": "e", "type": "quantitative", "scale": {"type": "log", "domain": [86.5, 20900], "nice": false}, "axis": null}, "y": {"field": "f", "type": "quantitative", "scale": {"domain": [-0.043, 1.052], "nice": false, "zero": false}, "axis": null}}},
{"data": {"name": "ms"}, "mark": {"type": "line", "color": "#a81818", "strokeWidth": 1.3},
 "encoding": {"x": {"field": "e", "type": "quantitative", "scale": {"type": "log", "domain": [86.5, 20900], "nice": false}, "axis": null}, "y": {"field": "f", "type": "quantitative", "scale": {"domain": [-0.043, 1.052], "nice": false, "zero": false}, "axis": null}}},
{"data": {"name": "md"}, "mark": {"type": "line", "color": "#1c1c90", "strokeWidth": 1.3},
 "encoding": {"x": {"field": "e", "type": "quantitative", "scale": {"type": "log", "domain": [86.5, 20900], "nice": false}, "axis": null}, "y": {"field": "f", "type": "quantitative", "scale": {"domain": [-0.043, 1.052], "nice": false, "zero": false}, "axis": null}}},
{"data": {"name": "mtq"}, "mark": {"type": "line", "color": "#303040", "strokeWidth": 1},
 "encoding": {"x": {"field": "e", "type": "quantitative", "scale": {"type": "log", "domain": [86.5, 20900], "nice": false}, "axis": null}, "y": {"field": "f", "type": "quantitative", "scale": {"domain": [-0.043, 1.052], "nice": false, "zero": false}, "axis": null}}},
{"data": {"values": [{}]}, "mark": {"type": "text", "text": "SW Model", "align": "left", "baseline": "middle", "fontSize": 18, "fontWeight": "bold", "color": "#000"},
 "encoding": {
  "x": {"datum": 98, "type": "quantitative", "scale": {"type": "log", "domain": [86.5, 20900], "nice": false},
   "axis": {"orient": "top", "values": [90,100,200,300,400,500,600,700,800,900,1000,2000,3000,4000,5000,6000,7000,8000,9000,10000,20000], "labels": false,
    "tickColor": "#000", "tickSize": {"condition": {"test": "datum.value == 100 || datum.value == 1000 || datum.value == 10000", "value": -9}, "value": -5},
    "domain": false, "grid": false, "title": null}},
  "y": {"datum": 0.54, "type": "quantitative", "scale": {"domain": [-0.043, 1.052], "nice": false, "zero": false},
   "axis": {"orient": "right", "values": [0,0.1,0.2,0.3,0.4,0.5,0.6,0.7,0.8,0.9,1], "labels": false,
    "tickColor": "#000", "tickSize": {"condition": {"test": "datum.value == 0 || datum.value == 0.5 || datum.value == 1", "value": -8}, "value": -5},
    "domain": false, "grid": false, "title": null}}
 }},
{"data": {"values": [{}]}, "mark": {"type": "text", "text": "RAWY = 189.9", "align": "left", "baseline": "middle", "fontSize": 12, "fontWeight": "bold", "color": "#000"},
 "encoding": {"x": {"datum": 98, "type": "quantitative", "scale": {"type": "log", "domain": [86.5, 20900], "nice": false}, "axis": null}, "y": {"datum": 0.488, "type": "quantitative", "scale": {"domain": [-0.043, 1.052], "nice": false, "zero": false}, "axis": null}}},
{"data": {"values": [{}]}, "mark": {"type": "text", "text": "SRCY =", "align": "left", "baseline": "middle", "fontSize": 12, "fontWeight": "bold", "color": "#000"},
 "encoding": {"x": {"datum": 318, "type": "quantitative", "scale": {"type": "log", "domain": [86.5, 20900], "nice": false}, "axis": null}, "y": {"datum": 0.488, "type": "quantitative", "scale": {"domain": [-0.043, 1.052], "nice": false, "zero": false}, "axis": null}}},
{"data": {"values": [{}]}, "mark": {"type": "text", "text": "188.34", "align": "right", "baseline": "middle", "fontSize": 12, "fontWeight": "bold", "color": "#000"},
 "encoding": {"x": {"datum": 890, "type": "quantitative", "scale": {"type": "log", "domain": [86.5, 20900], "nice": false}, "axis": null}, "y": {"datum": 0.488, "type": "quantitative", "scale": {"domain": [-0.043, 1.052], "nice": false, "zero": false}, "axis": null}}},
{"data": {"values": [{}]}, "mark": {"type": "text", "text": "RAWX = 32.7", "align": "left", "baseline": "middle", "fontSize": 12, "fontWeight": "bold", "color": "#000"},
 "encoding": {"x": {"datum": 98, "type": "quantitative", "scale": {"type": "log", "domain": [86.5, 20900], "nice": false}, "axis": null}, "y": {"datum": 0.448, "type": "quantitative", "scale": {"domain": [-0.043, 1.052], "nice": false, "zero": false}, "axis": null}}},
{"data": {"values": [{}]}, "mark": {"type": "text", "text": "SRCX =", "align": "left", "baseline": "middle", "fontSize": 12, "fontWeight": "bold", "color": "#000"},
 "encoding": {"x": {"datum": 318, "type": "quantitative", "scale": {"type": "log", "domain": [86.5, 20900], "nice": false}, "axis": null}, "y": {"datum": 0.448, "type": "quantitative", "scale": {"domain": [-0.043, 1.052], "nice": false, "zero": false}, "axis": null}}},
{"data": {"values": [{}]}, "mark": {"type": "text", "text": "32.87", "align": "right", "baseline": "middle", "fontSize": 12, "fontWeight": "bold", "color": "#000"},
 "encoding": {"x": {"datum": 890, "type": "quantitative", "scale": {"type": "log", "domain": [86.5, 20900], "nice": false}, "axis": null}, "y": {"datum": 0.448, "type": "quantitative", "scale": {"domain": [-0.043, 1.052], "nice": false, "zero": false}, "axis": null}}},
{"data": {"values": [{}]}, "mark": {"type": "text", "text": "2.0−*** keV observed−to−model fractions:", "align": "left", "baseline": "middle", "fontSize": 12.5, "fontWeight": "bold", "color": "#000"},
 "encoding": {"x": {"datum": 98, "type": "quantitative", "scale": {"type": "log", "domain": [86.5, 20900], "nice": false}, "axis": null}, "y": {"datum": 0.401, "type": "quantitative", "scale": {"domain": [-0.043, 1.052], "nice": false, "zero": false}, "axis": null}}},
{"data": {"values": [{}]}, "mark": {"type": "text", "text": "s: 0.998 +/− 0.004", "align": "left", "baseline": "middle", "fontSize": 12, "fontWeight": "bold", "color": "#000"},
 "encoding": {"x": {"datum": 98, "type": "quantitative", "scale": {"type": "log", "domain": [86.5, 20900], "nice": false}, "axis": null}, "y": {"datum": 0.356, "type": "quantitative", "scale": {"domain": [-0.043, 1.052], "nice": false, "zero": false}, "axis": null}}},
{"data": {"values": [{}]}, "mark": {"type": "text", "text": "d: 1.005 +/− 0.005", "align": "left", "baseline": "middle", "fontSize": 12, "fontWeight": "bold", "color": "#000"},
 "encoding": {"x": {"datum": 98, "type": "quantitative", "scale": {"type": "log", "domain": [86.5, 20900], "nice": false}, "axis": null}, "y": {"datum": 0.313, "type": "quantitative", "scale": {"domain": [-0.043, 1.052], "nice": false, "zero": false}, "axis": null}}},
{"data": {"values": [{}]}, "mark": {"type": "text", "text": "s+d", "angle": 270, "align": "center", "baseline": "middle", "fontSize": 13, "fontWeight": "bold", "color": "#e83ce8"},
 "encoding": {"x": {"datum": 47.8, "type": "quantitative", "scale": {"type": "log", "domain": [86.5, 20900], "nice": false}, "axis": null}, "y": {"datum": 0.954, "type": "quantitative", "scale": {"domain": [-0.043, 1.052], "nice": false, "zero": false}, "axis": null}}},
{"data": {"values": [{}]}, "mark": {"type": "text", "text": "s", "angle": 270, "align": "center", "baseline": "middle", "fontSize": 13, "fontWeight": "bold", "color": "#e81414"},
 "encoding": {"x": {"datum": 47.8, "type": "quantitative", "scale": {"type": "log", "domain": [86.5, 20900], "nice": false}, "axis": null}, "y": {"datum": 0.722, "type": "quantitative", "scale": {"domain": [-0.043, 1.052], "nice": false, "zero": false}, "axis": null}}},
{"data": {"values": [{}]}, "mark": {"type": "text", "text": "d", "angle": 270, "align": "center", "baseline": "middle", "fontSize": 13, "fontWeight": "bold", "color": "#1a1ac8"},
 "encoding": {"x": {"datum": 47.8, "type": "quantitative", "scale": {"type": "log", "domain": [86.5, 20900], "nice": false}, "axis": null}, "y": {"datum": 0.531, "type": "quantitative", "scale": {"domain": [-0.043, 1.052], "nice": false, "zero": false}, "axis": null}}},
{"data": {"values": [{}]}, "mark": {"type": "text", "text": "t", "angle": 270, "align": "center", "baseline": "middle", "fontSize": 13, "fontWeight": "bold", "color": "#3ccc2a"},
 "encoding": {"x": {"datum": 47.8, "type": "quantitative", "scale": {"type": "log", "domain": [86.5, 20900], "nice": false}, "axis": null}, "y": {"datum": 0.281, "type": "quantitative", "scale": {"domain": [-0.043, 1.052], "nice": false, "zero": false}, "axis": null}}},
{"data": {"values": [{}]}, "mark": {"type": "text", "text": "q", "angle": 270, "align": "center", "baseline": "middle", "fontSize": 13, "fontWeight": "bold", "color": "#2ad8e4"},
 "encoding": {"x": {"datum": 47.8, "type": "quantitative", "scale": {"type": "log", "domain": [86.5, 20900], "nice": false}, "axis": null}, "y": {"datum": 0.052, "type": "quantitative", "scale": {"domain": [-0.043, 1.052], "nice": false, "zero": false}, "axis": null}}},
{"data": {"values": [{}]}, "mark": {"type": "text", "text": "cnunez 22−May−2020 11:08", "align": "left", "baseline": "middle", "fontSize": 8, "color": "#000"},
 "encoding": {"x": {"datum": 8850, "type": "quantitative", "scale": {"type": "log", "domain": [86.5, 20900], "nice": false}, "axis": null}, "y": {"datum": -0.21, "type": "quantitative", "scale": {"domain": [-0.043, 1.052], "nice": false, "zero": false}, "axis": null}}}
],
"resolve": {"axis": {"x": "independent", "y": "independent"}}
}
],
"spacing": 65,
"bounds": "flush"
}
